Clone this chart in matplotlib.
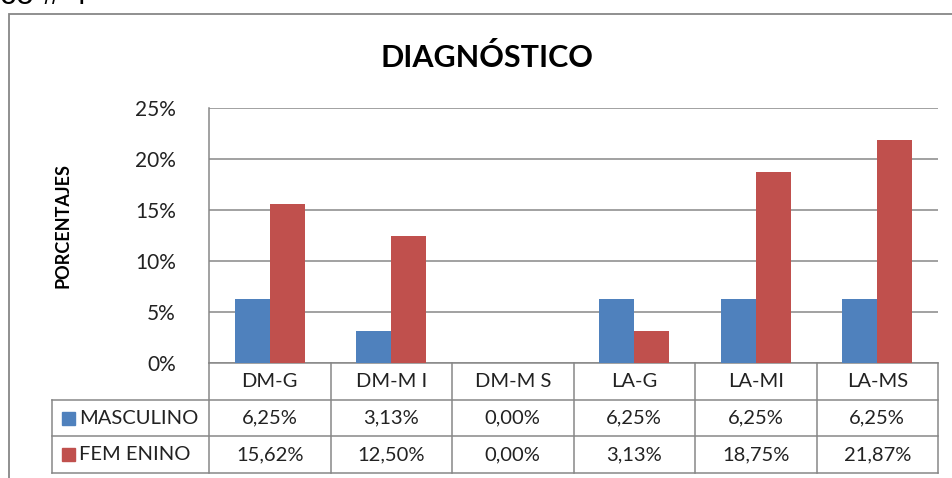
import numpy as np
import matplotlib.pyplot as plt
from matplotlib.patches import Rectangle
from matplotlib.transforms import blended_transform_factory
from matplotlib.ticker import PercentFormatter

plt.rcParams['font.family'] = ['Lato', 'DejaVu Sans']

# DATOS
categorias = ['DM-G', 'DM-MI', 'DM-MS', 'LA-G', 'LA-MI', 'LA-MS']
etiquetas_tabla = ['DM-G', 'DM-M I', 'DM-M S', 'LA-G', 'LA-MI', 'LA-MS']
masculino = [6.25, 3.13, 0.00, 6.25, 6.25, 6.25]
femenino = [15.62, 12.50, 0.00, 3.13, 18.75, 21.87]
series = ['MASCULINO', 'FEM ENINO']
yticks = [0, 5, 10, 15, 20, 25]

azul = '#4F81BD'
rojo = '#C0504D'
gris = '#878787'

W, H = 952, 478
fig = plt.figure(figsize=(W / 100, H / 100), dpi=100)

# marco exterior
fig.patches.append(Rectangle((9 / W, -0.05), 1.0, 1 - 14 / H + 0.05,
                             transform=fig.transFigure, fill=False,
                             edgecolor=gris, lw=1.3))
# texto cortado arriba (en la referencia solo se ve la parte de abajo)
fig.text(0, 1 - 4 / H, 'co # 4', fontsize=23, family='Liberation Sans',
         ha='left', va='baseline')

ax = fig.add_axes([209 / W, 1 - 363 / H, (938 - 209) / W, (363 - 108) / H])
x = np.arange(len(categorias))
w = 0.29
ax.bar(x - w / 2, masculino, w, color=azul, zorder=3)
ax.bar(x + w / 2, femenino, w, color=rojo, zorder=3)

ax.set_xlim(-0.5, len(categorias) - 0.5)
ax.set_ylim(0, 25)
ax.set_yticks(yticks)
ax.yaxis.set_major_formatter(PercentFormatter(decimals=0))
ax.tick_params(axis='y', length=0, pad=24, labelsize=15, labelcolor='#222222')
ax.set_xticks([])
ax.grid(axis='y', color=gris, lw=1.1, zorder=0)
for s in ['top', 'right', 'bottom']:
    ax.spines[s].set_visible(False)
ax.spines['left'].set_color(gris)
ax.spines['left'].set_linewidth(1.1)

ax.text(-(209 - 63) / 729, 1 - (225 - 108) / 255, 'PORCENTAJES',
        transform=ax.transAxes, rotation=90,
        fontsize=13, fontweight='bold', ha='center', va='center')
fig.text(487 / W, 1 - 57 / H, 'DIAGNÓSTICO', fontsize=22, fontweight='bold',
         ha='center', va='center')

# tabla de datos
tr = blended_transform_factory(ax.transData, ax.transAxes)
h = 36.7 / 255
xl = -0.5 - 157 / 121.5
xr = len(categorias) - 0.5
kw = dict(color=gris, lw=1.1, transform=tr, clip_on=False)
ax.plot([-0.5, xr], [0, 0], **kw)
for r in range(1, 4):
    ax.plot([xl, xr], [-r * h, -r * h], **kw)
ax.plot([xl, xl], [-h, -3 * h], **kw)
for c in np.arange(-0.5, xr + 0.01, 1):
    ax.plot([c, c], [0, -3 * h], **kw)

for i, lab in enumerate(etiquetas_tabla):
    ax.text(i, -0.5 * h, lab, transform=tr, ha='center', va='center',
            fontsize=14.5, color='#222222')
for r, (nombre, vals, col) in enumerate(zip(series, [masculino, femenino], [azul, rojo])):
    yc = -(r + 1.5) * h
    ax.add_patch(Rectangle((xl + 10 / 121.5, yc - 6.5 / 255), 13 / 121.5, 13 / 255,
                           transform=tr, color=col, clip_on=False))
    ax.text(xl + 27 / 121.5, yc, nombre, transform=tr, ha='left', va='center',
            fontsize=14.5, color='#222222')
    for i, v in enumerate(vals):
        ax.text(i, yc, f'{v:.2f}%'.replace('.', ','), transform=tr,
                ha='center', va='center', fontsize=14.5, color='#222222')

plt.savefig('out.png', dpi=100)
